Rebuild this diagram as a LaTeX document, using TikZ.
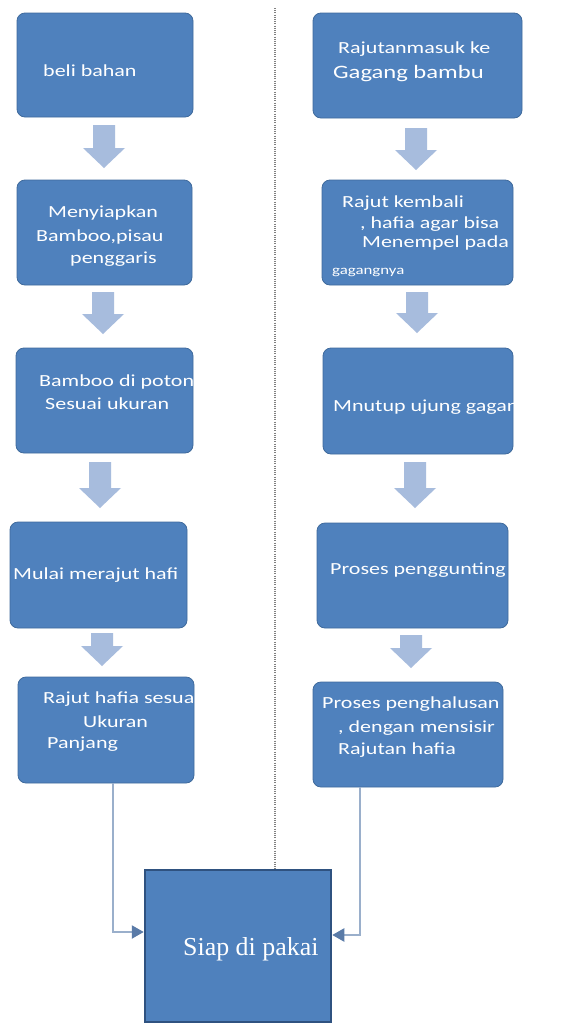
\documentclass[tikz,border=0pt]{standalone}
\usepackage{fontspec}
\setmainfont{Carlito}[FakeStretch=1.3]
\newfontfamily\serifsiap{Liberation Serif}
\usetikzlibrary{fit,arrows.meta,calc}
\definecolor{boxblue}{HTML}{4F81BD}
\definecolor{boxedge}{HTML}{3F6A9C}
\definecolor{finaledge}{HTML}{2F5280}
\definecolor{arrowfill}{HTML}{A7BCDD}
\definecolor{linecol}{HTML}{9AAFCB}
\definecolor{tipcol}{HTML}{5A7BA8}
\tikzset{
  box/.style={fill=boxblue, draw=boxedge, line width=0.8bp, rounded corners=8bp, inner sep=0pt},
  finalbox/.style={fill=boxblue, draw=finaledge, line width=2.5bp, inner sep=0pt},
  txt/.style={anchor=base west, inner sep=0pt, text=white, font=\fontsize{17}{20}\selectfont},
  bigtxt/.style={txt, font=\fontsize{19}{22}\selectfont},
  smalltxt/.style={txt, font=\fontsize{13}{15}\selectfont},
  siaptxt/.style={anchor=base west, inner sep=0pt, text=white, font=\serifsiap\fontsize{26}{30}\selectfont},
  blockarrow/.style={fill=arrowfill, draw=none},
  conn/.style={draw=linecol, line width=2.2bp, -{Triangle[length=12bp,width=13bp,color=tipcol]}},
  midline/.style={draw=black!50, line width=2.5bp, dash pattern=on 1bp off 1.2bp}
}
\newcommand\blockdown[3]{%
  \fill[blockarrow] (#1-11,#2) -- (#1+11,#2) -- (#1+11,#3-20) -- (#1+21,#3-20) -- (#1,#3) -- (#1-21,#3-20) -- (#1-11,#3-20) -- cycle;}
\begin{document}
\begin{tikzpicture}[x=1bp,y=-1bp]
\useasboundingbox (0,0) rectangle (571,1034);
\fill[white] (0,0) rectangle (571,1034);
\draw[midline] (275,8) -- (275,870);

% left column boxes
\node[box, fit={(17,13)(193,117)}] (L1) {};
\node[box, fit={(17,180)(192,285)}] (L2) {};
\node[box, fit={(16,348)(193,453)}] (L3) {};
\node[box, fit={(10,522)(187,628)}] (L4) {};
\node[box, fit={(18,677)(194,783)}] (L5) {};
% right column boxes
\node[box, fit={(313,13)(522,118)}] (R1) {};
\node[box, fit={(322,180)(513,285)}] (R2) {};
\node[box, fit={(323,348)(513,454)}] (R3) {};
\node[box, fit={(317,523)(508,628)}] (R4) {};
\node[box, fit={(313,682)(503,787)}] (R5) {};
% final box
\node[finalbox, fit={(145,870)(331,1022)}] (F) {};

% block arrows
\blockdown{104}{125}{168}
\blockdown{103}{292}{334}
\blockdown{100}{462}{508}
\blockdown{102}{633}{666}
\blockdown{416}{128}{170}
\blockdown{417}{292}{333}
\blockdown{415}{462}{508}
\blockdown{411}{635}{668}

% texts
\node[txt] (t1) at (43,76) {beli bahan};
\node[txt] (t2a) at (48,217) {Menyiapkan};
\node[txt] (t2b) at (36,241) {Bamboo,pisau};
\node[txt] (t2c) at (70,263) {penggaris};
\begin{scope}
  \clip (L3.south west) rectangle (L3.north east);
  \node[txt] (t3a) at (39,386) {Bamboo di poton};
  \node[txt] (t3b) at (45,409) {Sesuai ukuran};
\end{scope}
\begin{scope}
  \clip (L4.south west) rectangle (L4.north east);
  \node[txt] (t4) at (13,579) {Mulai merajut hafi};
\end{scope}
\begin{scope}
  \clip (L5.south west) rectangle (L5.north east);
  \node[txt] (t5a) at (43,703) {Rajut hafia sesua};
  \node[txt] (t5b) at (83,727) {Ukuran};
  \node[txt] (t5c) at (47,748) {Panjang};
\end{scope}

\node[txt] (r1a) at (338,53) {Rajutanmasuk ke};
\node[bigtxt] (r1b) at (333,78) {Gagang bambu};
\node[txt] (r2a) at (342,207) {Rajut kembali};
\node[txt] (r2b) at (360,228) {, hafia agar bisa};
\node[txt] (r2c) at (362,247) {Menempel pada};
\node[smalltxt] (r2d) at (332,274) {gagangnya};
\begin{scope}
  \clip (R3.south west) rectangle (R3.north east);
  \node[txt] (r3) at (333,411) {Mnutup ujung gagan};
\end{scope}
\begin{scope}
  \clip (R4.south west) rectangle (R4.north east);
  \node[txt] (r4) at (330,574) {Proses penggunting};
\end{scope}
\node[txt] (r5a) at (322,708) {Proses penghalusan};
\node[txt] (r5b) at (338,732) {, dengan mensisir};
\node[txt] (r5c) at (338,754) {Rajutan hafia};

\node[siaptxt] (fs) at (183,955) {Siap di pakai};

% connectors
\draw[conn] ([xshift=7bp]L5.south) |- ([yshift=14bp]F.west);
\draw[conn] ([xshift=-48bp]R5.south) |- ([yshift=11bp]F.east);
\end{tikzpicture}
\end{document}
